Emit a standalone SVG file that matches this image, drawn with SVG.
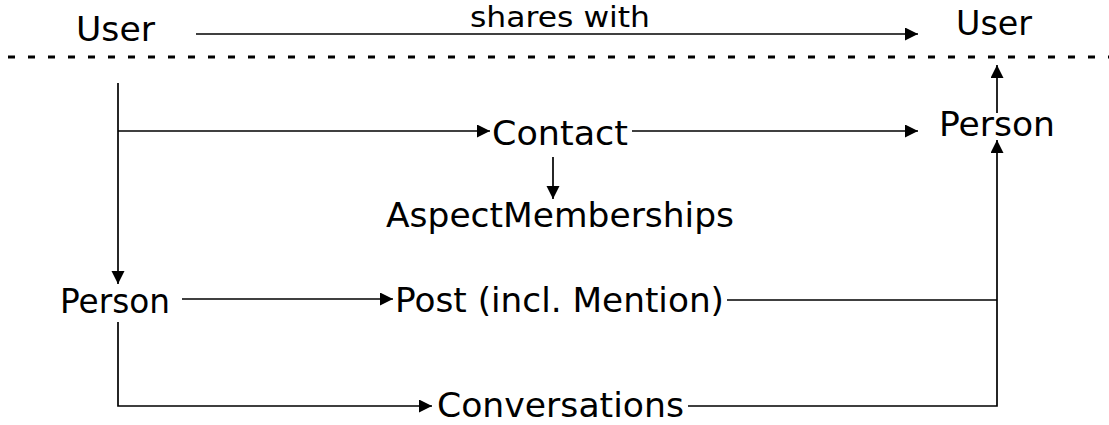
<svg xmlns="http://www.w3.org/2000/svg" width="1109" height="425" viewBox="0 0 1109 425">
<style>
  .lbl { font-family: "DejaVu Sans", "Liberation Sans", sans-serif; font-size: 34px; fill: #000; }
  .small { font-size: 28px; }
  .conn { fill: none; stroke: #000; stroke-width: 1.7; }
  .sep { fill: none; stroke: #000; stroke-width: 3; stroke-dasharray: 7 13; }
</style>
<defs>
  <marker id="arr" markerUnits="userSpaceOnUse" markerWidth="14" markerHeight="14" refX="13" refY="6.5" orient="auto">
    <path d="M0,0 L13,6.5 L0,13 z" fill="#000"/>
  </marker>
</defs>
<line class="sep" x1="8" y1="57" x2="1109" y2="57"/>
<g id="connectors">
  <path class="conn" d="M196,34 H918" marker-end="url(#arr)"/>
  <path class="conn" d="M118,83 V284" marker-end="url(#arr)"/>
  <path class="conn" d="M118,131 H490" marker-end="url(#arr)"/>
  <path class="conn" d="M632,131 H918" marker-end="url(#arr)"/>
  <path class="conn" d="M553,157 V199" marker-end="url(#arr)"/>
  <path class="conn" d="M182,299 H393" marker-end="url(#arr)"/>
  <path class="conn" d="M118,322 V406 H432" marker-end="url(#arr)"/>
  <path class="conn" d="M727,300 H997"/>
  <path class="conn" d="M688,406 H997 V140" marker-end="url(#arr)"/>
  <path class="conn" d="M997,113 V65" marker-end="url(#arr)"/>
  <text class="lbl small" x="470" y="27" textLength="180" lengthAdjust="spacingAndGlyphs">shares with</text>
</g>
<g id="user-left"><text class="lbl" x="76" y="41" textLength="79" lengthAdjust="spacingAndGlyphs">User</text></g>
<g id="user-right"><text class="lbl" x="956" y="35" textLength="76" lengthAdjust="spacingAndGlyphs">User</text></g>
<g id="contact"><text class="lbl" x="492" y="145" textLength="136" lengthAdjust="spacingAndGlyphs">Contact</text></g>
<g id="person-right"><text class="lbl" x="939" y="136" textLength="116" lengthAdjust="spacingAndGlyphs">Person</text></g>
<g id="aspect-memberships"><text class="lbl" x="386" y="227" textLength="348" lengthAdjust="spacingAndGlyphs">AspectMemberships</text></g>
<g id="person-left"><text class="lbl" x="60" y="313" textLength="110" lengthAdjust="spacingAndGlyphs">Person</text></g>
<g id="post"><text class="lbl" x="395" y="312" textLength="329" lengthAdjust="spacingAndGlyphs">Post (incl. Mention)</text></g>
<g id="conversations"><text class="lbl" x="437" y="417" textLength="247" lengthAdjust="spacingAndGlyphs">Conversations</text></g>
</svg>
